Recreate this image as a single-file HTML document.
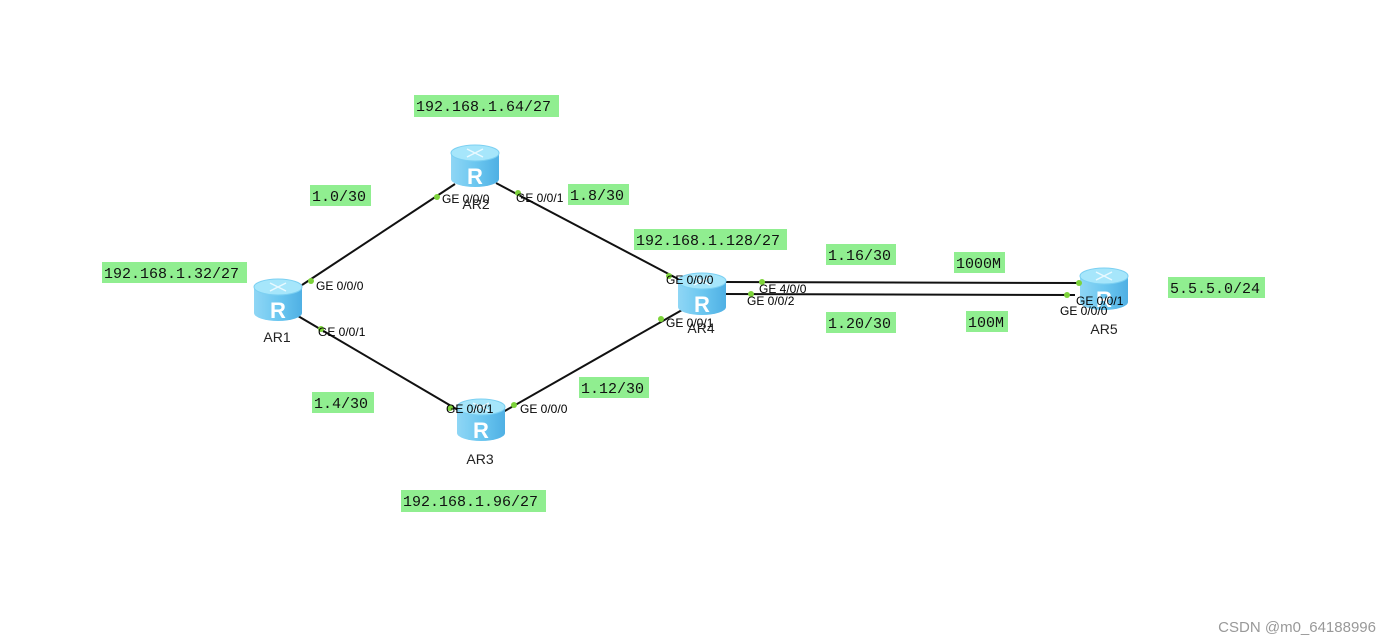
<!DOCTYPE html>
<html><head><meta charset="utf-8"><style>
body{margin:0;background:#fff;width:1392px;height:644px;overflow:hidden}
svg{display:block}
.lb{font-family:"Liberation Mono",monospace;font-size:15px;fill:#111}
.if{font-family:"Liberation Sans",sans-serif;font-size:12px;fill:#000}
.nm{font-family:"Liberation Sans",sans-serif;font-size:14px;fill:#222;text-anchor:middle}
.R{font-family:"Liberation Sans",sans-serif;font-size:22px;font-weight:bold;fill:#fff;text-anchor:middle}
</style></head><body>
<svg width="1392" height="644" viewBox="0 0 1392 644">
<defs>
<linearGradient id="g" x1="0" x2="1" y1="0" y2="0">
<stop offset="0" stop-color="#8fd6f5"/><stop offset="0.5" stop-color="#6cc7f0"/><stop offset="1" stop-color="#4fb0e4"/></linearGradient>
<g id="rt">
<rect x="-24" y="8" width="48" height="26" fill="url(#g)"/>
<ellipse cx="0" cy="34" rx="24" ry="8" fill="url(#g)"/>
<ellipse cx="0" cy="8" rx="24" ry="8" fill="#a6e6fb" stroke="#7cd0f2" stroke-width="1"/>
<path d="M-8 4 L8 12 M8 4 L-8 12" stroke="#e8f9ff" stroke-width="1.5"/>
</g>
</defs>
<g stroke="#111" stroke-width="2" fill="none">
<line x1="302" y1="285" x2="455" y2="184"/>
<line x1="496" y1="183" x2="680" y2="280"/>
<line x1="298" y1="316" x2="458" y2="410"/>
<line x1="503" y1="412" x2="682" y2="310"/>
<line x1="726" y1="282" x2="1080" y2="283"/>
<line x1="726" y1="294" x2="1075" y2="295"/>
</g>
<use href="#rt" x="278" y="279"/><text class="R" x="278" y="318">R</text>
<use href="#rt" x="475" y="145"/><text class="R" x="475" y="184">R</text>
<use href="#rt" x="481" y="399"/><text class="R" x="481" y="438">R</text>
<use href="#rt" x="702" y="273"/><text class="R" x="702" y="312">R</text>
<use href="#rt" x="1104" y="268"/><text class="R" x="1104" y="307">R</text>
<g fill="#7dd33a">
<circle cx="311" cy="281" r="3"/><circle cx="437" cy="197" r="3"/><circle cx="518" cy="193" r="3"/>
<circle cx="321" cy="329" r="3"/><circle cx="450" cy="408" r="3"/><circle cx="514" cy="405" r="3"/>
<circle cx="669" cy="276" r="3"/><circle cx="661" cy="319" r="3"/><circle cx="762" cy="282" r="3"/>
<circle cx="751" cy="294" r="3"/><circle cx="1079" cy="283" r="3"/><circle cx="1067" cy="295" r="3"/>
</g>
<text class="if" x="316" y="290">GE 0/0/0</text>
<text class="if" x="442" y="203">GE 0/0/0</text>
<text class="if" x="516" y="202">GE 0/0/1</text>
<text class="if" x="318" y="336">GE 0/0/1</text>
<text class="if" x="446" y="413">GE 0/0/1</text>
<text class="if" x="520" y="413">GE 0/0/0</text>
<text class="if" x="666" y="284">GE 0/0/0</text>
<text class="if" x="666" y="327">GE 0/0/1</text>
<text class="if" x="759" y="293">GE 4/0/0</text>
<text class="if" x="747" y="305">GE 0/0/2</text>
<text class="if" x="1076" y="305">GE 0/0/1</text>
<text class="if" x="1060" y="315">GE 0/0/0</text>
<text class="nm" x="277" y="342">AR1</text>
<text class="nm" x="476" y="209">AR2</text>
<text class="nm" x="480" y="464">AR3</text>
<text class="nm" x="701" y="333">AR4</text>
<text class="nm" x="1104" y="334">AR5</text>
<g fill="#90ee90">
<rect x="414" y="95" width="145" height="22"/>
<rect x="310" y="185" width="61" height="21"/>
<rect x="568" y="184" width="61" height="21"/>
<rect x="634" y="229" width="153" height="21"/>
<rect x="102" y="262" width="145" height="21"/>
<rect x="826" y="244" width="70" height="21"/>
<rect x="954" y="252" width="51" height="21"/>
<rect x="1168" y="277" width="97" height="21"/>
<rect x="826" y="312" width="70" height="21"/>
<rect x="966" y="311" width="42" height="21"/>
<rect x="312" y="392" width="62" height="21"/>
<rect x="579" y="377" width="70" height="21"/>
<rect x="401" y="490" width="145" height="22"/>
</g>
<text class="lb" x="416" y="111">192.168.1.64/27</text>
<text class="lb" x="312" y="201">1.0/30</text>
<text class="lb" x="570" y="200">1.8/30</text>
<text class="lb" x="636" y="245">192.168.1.128/27</text>
<text class="lb" x="104" y="278">192.168.1.32/27</text>
<text class="lb" x="828" y="260">1.16/30</text>
<text class="lb" x="956" y="268">1000M</text>
<text class="lb" x="1170" y="293">5.5.5.0/24</text>
<text class="lb" x="828" y="328">1.20/30</text>
<text class="lb" x="968" y="327">100M</text>
<text class="lb" x="314" y="408">1.4/30</text>
<text class="lb" x="581" y="393">1.12/30</text>
<text class="lb" x="403" y="506">192.168.1.96/27</text>
<text x="1376" y="632" text-anchor="end" style="font-family:'Liberation Sans',sans-serif;font-size:15px;fill:#999">CSDN @m0_64188996</text>
</svg>
</body></html>
